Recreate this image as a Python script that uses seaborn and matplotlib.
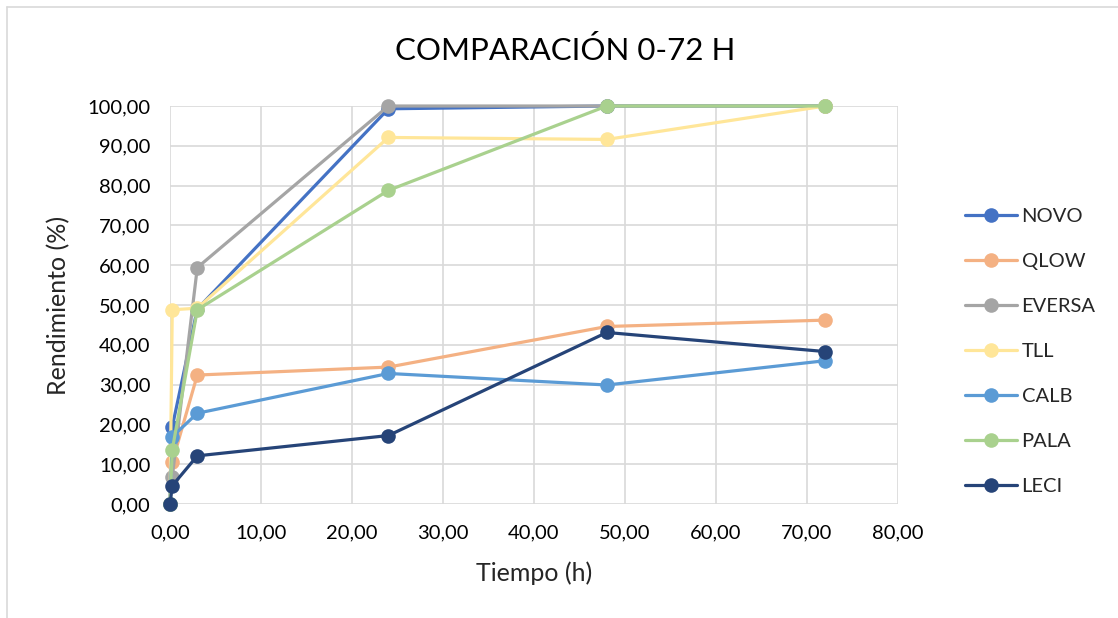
import matplotlib
matplotlib.use("Agg")
import matplotlib.pyplot as plt
from matplotlib.lines import Line2D
from matplotlib.ticker import FuncFormatter, MultipleLocator
import seaborn as sns
import pandas as pd

# ---- data ----
tiempo = [0, 0.25, 3, 24, 48, 72]
series = ["NOVO", "QLOW", "EVERSA", "TLL", "CALB", "PALA", "LECI"]
novo = [0, 19.4, 49.0, 99.3, 100, 100]
qlow = [0, 10.5, 32.4, 34.4, 44.6, 46.2]
eversa = [0, 6.9, 59.4, 100, 100, 100]
tll = [0, 48.8, 49.2, 92.1, 91.6, 100]
calb = [0, 16.9, 22.8, 32.8, 29.9, 36.0]
pala = [0, 13.6, 48.8, 78.8, 100, 100]
leci = [0, 4.6, 12.1, 17.2, 43.1, 38.3]
colors = ["#4472C4", "#F4B183", "#A5A5A5", "#FFE699", "#5B9BD5", "#A9D18E", "#264478"]

values = [novo, qlow, eversa, tll, calb, pala, leci]
rows = []
for name, vals in zip(series, values):
    for t, v in zip(tiempo, vals):
        rows.append({"Tiempo": t, "Rendimiento": v, "Serie": name})
df = pd.DataFrame(rows)

sns.set_theme(style="white")
plt.rcParams["font.family"] = ["Lato", "DejaVu Sans"]

fig = plt.figure(figsize=(11.18, 6.18), dpi=100)
ax = fig.add_axes([170 / 1118, 1 - 504 / 618, 728 / 1118, 398 / 618])

sns.lineplot(data=df, x="Tiempo", y="Rendimiento", hue="Serie", hue_order=series,
             palette=colors, marker="o", markersize=10.5, markeredgewidth=0,
             linewidth=2.3, sort=False, estimator=None, ax=ax, legend=False)
for ln in ax.lines:
    ln.set_clip_on(False)

ax.set_xlim(0, 80)
ax.set_ylim(0, 100)
ax.xaxis.set_major_locator(MultipleLocator(10))
ax.yaxis.set_major_locator(MultipleLocator(10))
fmt = FuncFormatter(lambda v, p: f"{v:.2f}".replace(".", ","))
ax.xaxis.set_major_formatter(fmt)
ax.yaxis.set_major_formatter(fmt)
ax.grid(True, color="#D9D9D9", linewidth=1.2)
ax.set_axisbelow(True)
for s in ax.spines.values():
    s.set_visible(False)
ax.tick_params(axis="both", labelsize=14.5, colors="#000000", length=0)
ax.tick_params(axis="x", pad=15)
ax.tick_params(axis="y", pad=14)
ax.set_xlabel("Tiempo (h)", fontsize=18)
ax.set_ylabel("Rendimiento (%)", fontsize=18)
ax.xaxis.set_label_coords(0.5, -0.143)
ax.yaxis.set_label_coords(-0.137, 0.5)

fig.text(565 / 1118, 1 - 50 / 618, "COMPARACIÓN 0-72 H", ha="center", va="center",
         fontsize=22.5, color="#000000")

handles = [Line2D([0], [0], color=c, marker="o", markersize=10.5, markeredgewidth=0,
                  linewidth=2.3) for c in colors]
fig.legend(handles, series, loc="upper left", bbox_to_anchor=(947 / 1118, 1 - 190 / 618),
           frameon=False, fontsize=14.5, handlelength=2.6, labelspacing=1.38,
           handletextpad=0.2)

# outer chart border (left and top visible)
fig.add_artist(Line2D([7 / 1118, 7 / 1118], [0, 1 - 7 / 618], color="#D9D9D9",
                      linewidth=1.2, transform=fig.transFigure))
fig.add_artist(Line2D([7 / 1118, 1], [1 - 7 / 618, 1 - 7 / 618], color="#D9D9D9",
                      linewidth=1.2, transform=fig.transFigure))

fig.savefig("out.png", dpi=100)
